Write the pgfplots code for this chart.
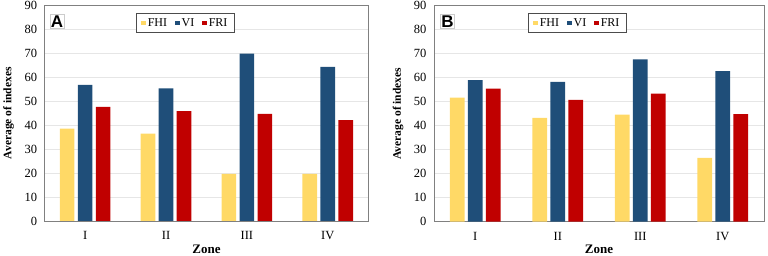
\documentclass[border=0pt]{standalone}
\usepackage{pgfplots}
\pgfplotsset{compat=1.18}
\usepackage{fontspec}
\setmainfont{Liberation Serif}
\newfontfamily\arialbf{Liberation Sans}
\definecolor{cFHI}{HTML}{FFD966}
\definecolor{cVI}{HTML}{1F4E79}
\definecolor{cFRI}{HTML}{C00000}
\definecolor{frame}{HTML}{808080}
\definecolor{grid}{HTML}{E6E6E6}
\pgfplotsset{
  panel/.style={
    scale only axis,
    ybar,
    ymin=0, ymax=90, ytick={0,10,...,90},
    xmin=-0.5, xmax=3.5,
    xtick={0,1,2,3}, xticklabels={I,II,III,IV},
    axis line style={frame, line width=0.8pt},
    xtick style={draw=none}, ytick style={draw=none},
    xmajorgrids=false,
    ymajorgrids=true, y grid style={grid, line width=0.8pt},
    tick label style={font=\fontsize{12.5}{14}\selectfont},
    /pgf/number format/assume math mode=true,
    yticklabel style={xshift=-4pt},
    xticklabel style={yshift=-3pt},
    xlabel={\bfseries Zone},
    ylabel={\bfseries Average of indexes},
    xlabel style={font=\fontsize{13}{14}\selectfont, at={(axis description cs:0.5,0)}, anchor=center, yshift=-28pt},
    ylabel style={font=\fontsize{11.5}{13}\selectfont, at={(axis description cs:0,0.5)}, anchor=center, yshift=36pt},
    legend columns=3,
    legend style={draw=black!70, line width=0.6pt, font=\fontsize{12}{13}\selectfont,
      inner xsep=5pt, inner ysep=3pt,
      /tikz/every even column/.append style={column sep=6pt}},
    legend image code/.code={\fill[##1] (0pt,-2.2pt) rectangle (4.5pt,2.2pt);},
    bar width=14.7pt,
  },
}
\begin{document}
\begin{tikzpicture}[x=1pt,y=1pt]
\useasboundingbox (0,0) rectangle (768,256);
% Panel A
\begin{axis}[panel, at={(44.7pt,35pt)}, anchor=south west, width=323.5pt, height=215.5pt,
  legend style={at={(136pt-44.7pt,243pt-35pt)}, anchor=north west}]
\addplot[fill=cFHI, draw=none, bar shift=-18pt] coordinates {(0,38.6) (1,36.5) (2,19.7) (3,19.7)};
\addplot[fill=cVI, draw=none, bar shift=0pt] coordinates {(0,56.8) (1,55.4) (2,69.9) (3,64.4)};
\addplot[fill=cFRI, draw=none, bar shift=18pt] coordinates {(0,47.7) (1,45.9) (2,44.7) (3,42.1)};
\legend{FHI,VI,FRI}
\end{axis}
% Panel B
\begin{axis}[panel, at={(434pt,34.3pt)}, anchor=south west, width=330pt, height=216pt,
  legend style={at={(528pt-434pt,243pt-34.3pt)}, anchor=north west}]
\addplot[fill=cFHI, draw=none, bar shift=-18pt] coordinates {(0,51.7) (1,43.3) (2,44.6) (3,26.6)};
\addplot[fill=cVI, draw=none, bar shift=0pt] coordinates {(0,59.0) (1,58.3) (2,67.6) (3,62.7)};
\addplot[fill=cFRI, draw=none, bar shift=18pt] coordinates {(0,55.4) (1,50.8) (2,53.4) (3,44.8)};
\legend{FHI,VI,FRI}
\end{axis}
% Panel letters
\node[draw=black!20, line width=0.6pt, inner sep=1pt, anchor=north west, font=\arialbf\bfseries\fontsize{17}{18}\selectfont] at (49.5,241.5) {A};
\node[draw=black!20, line width=0.6pt, inner sep=1pt, anchor=north west, font=\arialbf\bfseries\fontsize{17}{18}\selectfont] at (440,241.5) {B};
\end{tikzpicture}
\end{document}
